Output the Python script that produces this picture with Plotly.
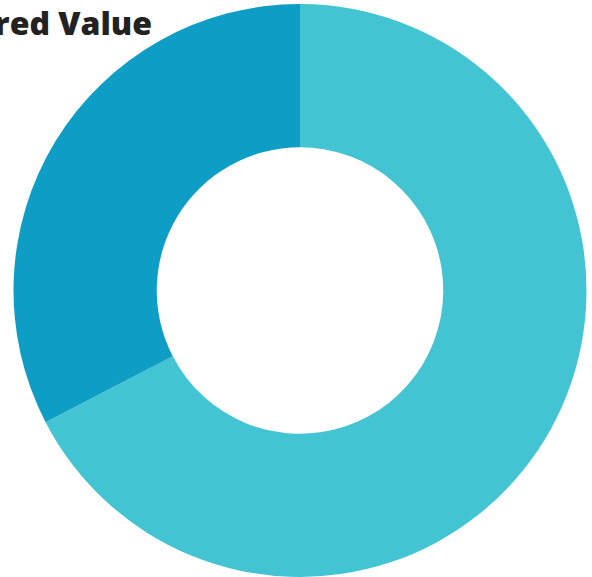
import plotly.graph_objects as go

labels = ["Segment A", "Segment B"]
values = [67.4, 32.6]
colors = ["#42c4d2", "#0e9dc5"]
title_text = "Measured Value"

fig = go.Figure(go.Pie(
    labels=labels,
    values=values,
    hole=0.5,
    sort=False,
    direction="clockwise",
    rotation=0,
    marker=dict(colors=colors, line=dict(width=0)),
    textinfo="none",
    hoverinfo="label+value",
    domain=dict(x=[13/592, 587/592], y=[0, 1]),
))

fig.update_layout(
    width=592, height=577,
    margin=dict(l=0, r=0, t=4, b=0),
    showlegend=False,
    paper_bgcolor="white",
    plot_bgcolor="white",
    title=dict(
        text=title_text,
        xref="container", yref="container",
        x=152/592, xanchor="right",
        y=1 - 13/577, yanchor="top",
        font=dict(family="Open Sans", size=32, color="#222222", weight=800),
    ),
)

fig.write_html("out.html", config={"displayModeBar": False},
               post_script="document.body.style.margin='0';")
